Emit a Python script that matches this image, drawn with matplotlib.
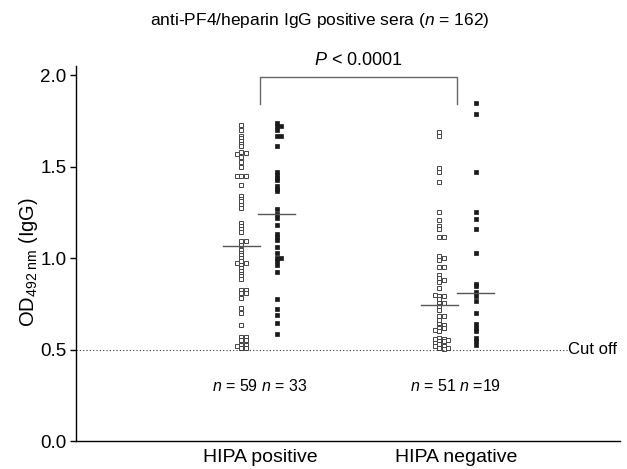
import numpy as np
import matplotlib
matplotlib.use('Agg')
import matplotlib.pyplot as plt

plt.rcParams['font.family'] = ['Liberation Sans', 'DejaVu Sans']
plt.rcParams['mathtext.fontset'] = 'custom'
plt.rcParams['mathtext.rm'] = 'Liberation Sans'
plt.rcParams['mathtext.it'] = 'Liberation Sans:italic'

# OD values
open_pos = [1.73, 1.70, 1.67, 1.655, 1.64, 1.625, 1.61, 1.58, 1.575, 1.57, 1.553, 1.526, 1.50,
            1.45, 1.45, 1.45, 1.40, 1.34, 1.325, 1.31, 1.29, 1.275, 1.19, 1.175, 1.16, 1.14,
            1.095, 1.095, 1.07, 1.044, 1.03, 1.015, 1.0, 0.985, 0.975, 0.975, 0.96, 0.945, 0.93,
            0.915, 0.90, 0.885, 0.825, 0.825, 0.81, 0.81, 0.78, 0.727, 0.70, 0.634, 0.57, 0.57,
            0.55, 0.55, 0.525, 0.525, 0.51, 0.51, 0.52]
filled_pos = [1.74, 1.72, 1.72, 1.70, 1.67, 1.67, 1.61, 1.47, 1.455, 1.44, 1.425, 1.395, 1.38,
              1.365, 1.27, 1.24, 1.22, 1.18, 1.13, 1.115, 1.10, 1.06, 1.03, 1.00, 1.00, 0.985,
              0.96, 0.925, 0.774, 0.72, 0.69, 0.645, 0.585]
open_neg = [1.69, 1.67, 1.49, 1.47, 1.417, 1.25, 1.208, 1.175, 1.157, 1.113, 1.113, 1.01, 1.0,
            0.99, 0.953, 0.953, 0.907, 0.893, 0.88, 0.834, 0.79, 0.79, 0.775, 0.755, 0.755, 0.74,
            0.716, 0.683, 0.683, 0.646, 0.635, 0.62, 0.62, 0.607, 0.563, 0.56, 0.56, 0.55, 0.545,
            0.545, 0.535, 0.53, 0.52, 0.52, 0.51, 0.51, 0.505, 0.60, 0.66, 0.80, 0.87]
filled_neg = [1.85, 1.79, 1.468, 1.25, 1.213, 1.157, 1.03, 0.86, 0.845, 0.815, 0.79, 0.765,
              0.698, 0.64, 0.62, 0.60, 0.565, 0.545, 0.525]
medians = [1.066, 1.24, 0.743, 0.81]
n_labels = [r'$n$ = 59 $n$ = 33', r'$n$ = 51 $n$ =19']
groups = ['HIPA positive', 'HIPA negative']
cutoff = 0.5


def dodge(vals, thr=0.014, step=0.023):
    # simple column stacking, side-step when two squares would sit on each other
    placed = []
    offs = []
    for v in vals:
        for lane in [0, 1, -1, 2, -2]:
            if all(abs(v - pv) >= thr for pv, pl in placed if pl == lane):
                break
        placed.append((v, lane))
        offs.append(lane * step)
    return np.array(offs)


fig = plt.figure(figsize=(6.27, 4.69), dpi=100)
ax = fig.add_axes([76/627, 28/469, 544/627, 375/469])

cols = [(1 - 0.095, open_pos, False), (1 + 0.085, filled_pos, True),
        (2 - 0.085, open_neg, False), (2 + 0.1, filled_neg, True)]
for k, (xc, vals, filled) in enumerate(cols):
    xs = xc + dodge(vals)
    if filled:
        ax.plot(xs, vals, 's', ms=3.3, mfc='#1a1a1a', mec='#1a1a1a', mew=0.5, ls='none')
    else:
        ax.plot(xs, vals, 's', ms=2.9, mfc='white', mec='#444444', mew=0.7, ls='none')
    ax.plot([xc - 0.095, xc + 0.095], [medians[k], medians[k]], color='#555555', lw=1.0)

# cut off line
ax.plot([0.061, 2.566], [cutoff, cutoff], ls=(0, (1, 2)), color='#333333', lw=0.8)
ax.text(2.571, cutoff, 'Cut off', fontsize=12, va='center', ha='left')

for i, lab in enumerate(n_labels):
    ax.text(i + 1, 0.30, lab, fontsize=11.5, ha='center', va='center')

# significance bracket
ax.plot([1.0, 1.0, 2.005, 2.005], [1.84, 1.99, 1.99, 1.84], color='#666666', lw=1.0, clip_on=False)
ax.text(1.5, 2.08, r'$P$ < 0.0001', fontsize=13, ha='center', va='center', clip_on=False)

ax.set_xlim(0.061, 2.837)
ax.set_ylim(0, 2.05)
ax.set_yticks([0.0, 0.5, 1.0, 1.5, 2.0])
ax.set_yticklabels(['0.0', '0.5', '1.0', '1.5', '2.0'])
ax.set_xticks([1, 2])
ax.set_xticklabels(groups)
ax.tick_params(axis='y', length=4, width=1, labelsize=13.5, pad=3)
ax.tick_params(axis='x', length=0, labelsize=14, pad=6)
for s in ['top', 'right']:
    ax.spines[s].set_visible(False)
for s in ['left', 'bottom']:
    ax.spines[s].set_linewidth(1.0)

fig.text(28/627, 1 - 262/469, r'OD$_{492\ \mathrm{nm}}$ (IgG)', rotation=90,
         fontsize=14.5, ha='center', va='center')
fig.text(0.51, 1 - 21/469, r'anti-PF4/heparin IgG positive sera ($n$ = 162)',
         fontsize=12.5, ha='center', va='center')

fig.savefig('out.png', dpi=100)
